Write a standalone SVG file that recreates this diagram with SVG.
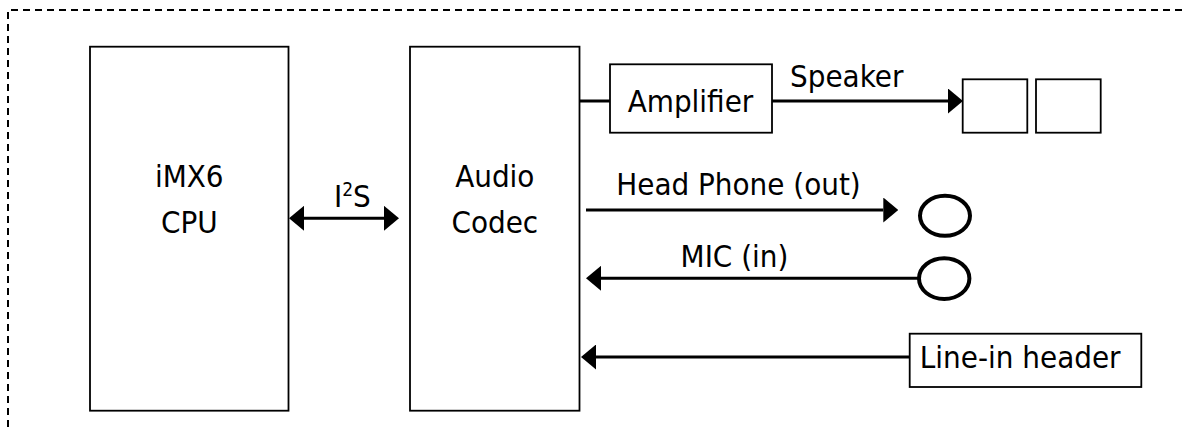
<svg xmlns="http://www.w3.org/2000/svg" width="1184" height="427" viewBox="0 0 1184 427">
<style>
  .box { fill: #fff; stroke: #000; stroke-width: 1.8; }
  .jack { fill: none; stroke: #000; stroke-width: 4; }
  .wire { stroke: #000; stroke-width: 3; fill: none; }
  .frame { stroke: #000; stroke-width: 2; fill: none; stroke-dasharray: 7 5; }
  text { font-family: "DejaVu Sans Condensed", "DejaVu Sans", sans-serif; font-stretch: condensed; font-size: 31px; fill: #000; }
  .c { text-anchor: middle; }
</style>
<defs>
  <marker id="ah" viewBox="0 0 15 25" refX="0" refY="12.5" markerWidth="15" markerHeight="25" markerUnits="userSpaceOnUse" orient="auto-start-reverse">
    <path d="M0,0 L15,12.5 L0,25 Z" fill="#000"/>
  </marker>
</defs>
<rect width="1184" height="427" fill="#fff"/>
<path class="frame" d="M8,427 V10 H1184"/>

<g id="cpu">
  <rect class="box" x="90" y="46.7" width="198.5" height="364"/>
  <text class="c" x="189.3" y="187.3">iMX6</text>
  <text class="c" x="189.3" y="233">CPU</text>
</g>
<g id="codec">
  <rect class="box" x="410" y="46.7" width="169.5" height="364"/>
  <text class="c" x="494.8" y="187.3">Audio</text>
  <text class="c" x="494.8" y="233">Codec</text>
</g>
<g id="amplifier">
  <rect class="box" x="610" y="64.3" width="162" height="68.4"/>
  <text class="c" x="690.5" y="112">Amplifier</text>
</g>
<g id="speaker">
  <rect class="box" x="962.7" y="79.3" width="64.6" height="53.4"/>
  <rect class="box" x="1036" y="79.3" width="64.7" height="53.4"/>
</g>
<g id="headphone">
  <ellipse class="jack" cx="945" cy="215.8" rx="25" ry="20"/>
</g>
<g id="mic">
  <ellipse class="jack" cx="944.2" cy="278.6" rx="25.2" ry="20.4"/>
</g>
<g id="linein">
  <rect class="box" x="909.7" y="333.7" width="231.6" height="53.3"/>
  <text class="c" x="1020.2" y="367.7">Line-in header</text>
</g>

<g id="connectors">
  <line class="wire" x1="304" y1="218.3" x2="384" y2="218.3" marker-start="url(#ah)" marker-end="url(#ah)"/>
  <text x="334" y="206.7">I<tspan font-size="19" dy="-11">2</tspan><tspan dy="11">S</tspan></text>
  <line class="wire" x1="579.5" y1="101" x2="610" y2="101"/>
  <line class="wire" x1="772" y1="101" x2="948" y2="101" marker-end="url(#ah)"/>
  <text class="c" x="846.7" y="86.7">Speaker</text>
  <line class="wire" x1="586" y1="210" x2="883.3" y2="210" marker-end="url(#ah)"/>
  <text class="c" x="738.5" y="195">Head Phone (out)</text>
  <line class="wire" x1="919" y1="278.3" x2="601" y2="278.3" marker-end="url(#ah)"/>
  <text class="c" x="734.5" y="267.3">MIC (in)</text>
  <line class="wire" x1="909.7" y1="357" x2="596" y2="357" marker-end="url(#ah)"/>
</g>
</svg>
